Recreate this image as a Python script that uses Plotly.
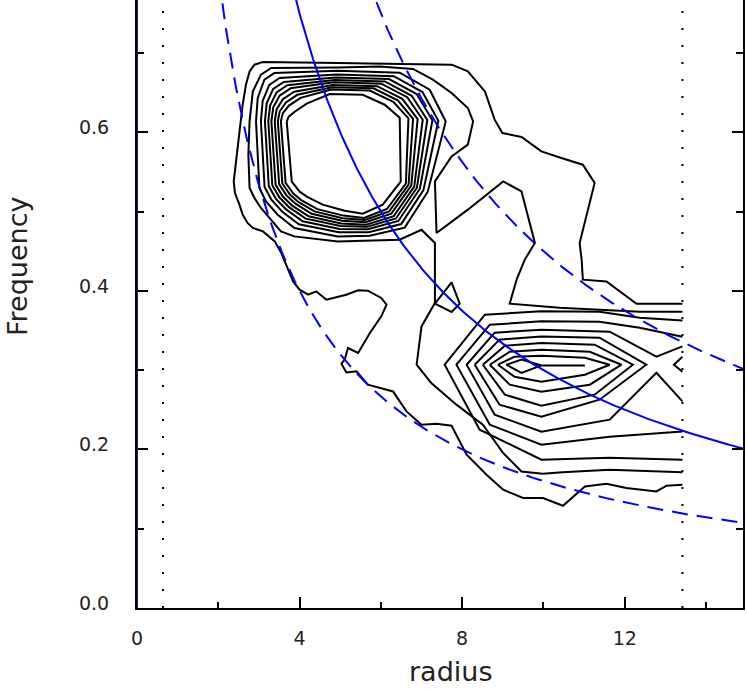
import numpy as np
import plotly.graph_objects as go

# ---- reference curves y = c / x ----
c_mid = 3.0
c_high = 4.5
c_low = 1.6
dotted_x = [0.64, 13.42]

# ---- contour lines (data coordinates) ----
# level 1: outer envelope (open at the right data edge)
lev1_x = [13.42, 13.03, 12.78, 12.04, 11.55, 11.02, 10.48, 9.99, 9.50, 9.01, 8.60, 8.11, 7.74, 7.37, 7.00,
          6.63, 6.30, 5.68, 5.40, 5.15, 5.03, 5.11, 5.19, 5.44, 5.73, 6.01, 6.14, 6.01, 5.68, 5.44, 5.15,
          4.66, 4.41, 4.21, 4.00, 3.84, 3.55, 3.39, 3.10, 2.97, 2.85, 2.72, 2.60, 2.52, 2.41, 2.38, 2.44,
          2.52, 2.60, 2.68, 2.77, 2.89, 3.09, 4.94, 6.96, 7.74, 8.14, 8.56, 8.80, 8.99, 9.46, 9.95, 10.44,
          10.97, 11.26, 10.89, 10.94, 10.97, 11.55, 12.29, 13.42]
lev1_y = [0.1556, 0.1543, 0.1471, 0.1514, 0.1568, 0.1534, 0.129, 0.1388, 0.1388, 0.1492, 0.1682, 0.1934,
          0.230, 0.2325, 0.2312, 0.248, 0.2732, 0.2817, 0.2985, 0.2972, 0.3082, 0.3132, 0.328, 0.3217, 0.3469,
          0.3679, 0.3826, 0.3911, 0.4003, 0.4007, 0.3952, 0.3889, 0.3994, 0.3952, 0.4015, 0.412, 0.4478,
          0.4625, 0.4751, 0.4772, 0.4794, 0.4857, 0.4962, 0.5088, 0.5235, 0.5382, 0.5634, 0.6012, 0.6349,
          0.6601, 0.6769, 0.6854, 0.6888, 0.6875, 0.6863, 0.6854, 0.6769, 0.6517, 0.616, 0.5992, 0.5942,
          0.576, 0.5677, 0.5592, 0.5361, 0.4605, 0.4394, 0.4142, 0.412, 0.3839, 0.3839]

# level 2: long open contour
lev2_x = [13.42, 11.63, 10.47, 9.98, 9.46, 9.01, 8.51, 7.86, 7.24, 6.88, 7.00, 7.33, 7.33, 7.00, 6.46, 4.94,
          3.87, 3.54, 3.05, 2.89, 2.77, 2.74, 2.77, 2.85, 3.05, 3.30, 4.94, 5.97, 6.79, 7.28, 7.74, 8.14,
          8.27, 8.14, 7.74, 7.33, 7.37, 8.14, 9.01, 9.46, 9.79, 9.54, 9.34, 9.17, 10.40, 11.58, 12.37, 13.42]
lev2_y = [0.1711, 0.1745, 0.1711, 0.1694, 0.1723, 0.1955, 0.2312, 0.2565, 0.2838, 0.3069, 0.3552, 0.3848,
          0.4605, 0.4772, 0.4646, 0.4625, 0.4688, 0.4751, 0.5046, 0.5172, 0.5298, 0.5718, 0.6138, 0.6517,
          0.6728, 0.6812, 0.682, 0.6832, 0.680, 0.6665, 0.6497, 0.6308, 0.6138, 0.5845, 0.5697, 0.5382,
          0.4731, 0.5025, 0.5382, 0.5255, 0.4605, 0.4394, 0.4142, 0.3839, 0.3788, 0.3763, 0.3738, 0.3738]
lev2b_x = [7.33, 7.74, 7.94, 7.74, 7.33]
lev2b_y = [0.3839, 0.4107, 0.3839, 0.3734, 0.3839]

# first blob (levels 3 .. 11), closed rings
b1_l3_x = [2.928, 3.012, 3.174, 3.462, 3.873, 4.938, 5.726, 6.587, 7.153, 7.596, 7.202, 6.464, 4.938, 3.381, 3.135, 2.970, 2.928]
b1_l3_y = [0.6138, 0.5298, 0.5129, 0.4962, 0.4794, 0.4688, 0.4697, 0.4798, 0.5252, 0.6138, 0.6538, 0.6753, 0.6778, 0.6749, 0.6665, 0.6434, 0.6138]
b1_l4_x = [3.049, 3.139, 3.307, 3.576, 3.984, 4.966, 5.698, 6.500, 7.047, 7.415, 7.025, 6.318, 4.907, 3.508, 3.254, 3.092, 3.049]
b1_l4_y = [0.614, 0.531, 0.515, 0.4998, 0.4841, 0.474, 0.4741, 0.4844, 0.5272, 0.6146, 0.6508, 0.6709, 0.6731, 0.6687, 0.66, 0.6396, 0.614]
b1_l5_x = [3.147, 3.243, 3.414, 3.669, 4.075, 4.988, 5.676, 6.430, 6.960, 7.268, 6.881, 6.200, 4.881, 3.612, 3.351, 3.191, 3.147]
b1_l5_y = [0.614, 0.5321, 0.5165, 0.5028, 0.4879, 0.4782, 0.4777, 0.4882, 0.5289, 0.6152, 0.6483, 0.6672, 0.6693, 0.6637, 0.6548, 0.6366, 0.614]
b1_l6_x = [3.230, 3.330, 3.506, 3.748, 4.151, 5.007, 5.657, 6.371, 6.887, 7.143, 6.759, 6.100, 4.860, 3.699, 3.433, 3.275, 3.230]
b1_l6_y = [0.614, 0.533, 0.5178, 0.5053, 0.4912, 0.4818, 0.4808, 0.4914, 0.5302, 0.6157, 0.6462, 0.6642, 0.666, 0.6594, 0.6503, 0.634, 0.614]
b1_l7_x = [3.306, 3.410, 3.589, 3.819, 4.221, 5.025, 5.640, 6.317, 6.821, 7.030, 6.649, 6.009, 4.840, 3.779, 3.508, 3.352, 3.306]
b1_l7_y = [0.614, 0.5338, 0.519, 0.5076, 0.4941, 0.485, 0.4836, 0.4943, 0.5315, 0.616, 0.6444, 0.6614, 0.6631, 0.6556, 0.6463, 0.6316, 0.614]
b1_l8_x = [3.389, 3.497, 3.680, 3.898, 4.298, 5.044, 5.621, 6.257, 6.748, 6.905, 6.527, 5.909, 4.818, 3.866, 3.589, 3.435, 3.389]
b1_l8_y = [0.614, 0.5347, 0.5204, 0.51, 0.4973, 0.4886, 0.4866, 0.4975, 0.5329, 0.6167, 0.6423, 0.6583, 0.6599, 0.6513, 0.6419, 0.629, 0.614]
b1_l9_x = [3.465, 3.576, 3.763, 3.969, 4.367, 5.061, 5.604, 6.203, 6.682, 6.792, 6.416, 5.818, 4.799, 3.945, 3.664, 3.512, 3.465]
b1_l9_y = [0.614, 0.5355, 0.5216, 0.5123, 0.5003, 0.4918, 0.4894, 0.5004, 0.5341, 0.6171, 0.6404, 0.6556, 0.6569, 0.6474, 0.6378, 0.6266, 0.614]
b1_l10_x = [3.540, 3.656, 3.845, 4.040, 4.437, 5.078, 5.587, 6.149, 6.615, 6.679, 6.305, 5.727, 4.779, 4.025, 3.738, 3.588, 3.540]
b1_l10_y = [0.614, 0.5363, 0.5229, 0.5146, 0.5032, 0.495, 0.4921, 0.5033, 0.5354, 0.6176, 0.6385, 0.6528, 0.654, 0.6436, 0.6338, 0.6243, 0.614]
b1_l11_x = [3.684, 3.807, 4.003, 4.176, 4.569, 5.111, 5.554, 6.046, 6.489, 6.464, 6.095, 5.554, 4.742, 4.176, 3.880, 3.733, 3.684]
b1_l11_y = [0.6135, 0.5378, 0.5252, 0.5189, 0.5088, 0.5012, 0.4974, 0.5088, 0.5378, 0.6185, 0.6349, 0.6475, 0.6484, 0.6362, 0.6261, 0.6198, 0.6135]

# second blob (levels 3 .. 10)
b2_l3_x = [13.42, 12.37, 11.38, 9.95, 8.56, 7.57, 8.43, 9.95, 11.63, 13.42]
b2_l3_y = [0.3628, 0.3662, 0.3738, 0.3742, 0.370, 0.3069, 0.2249, 0.1871, 0.1896, 0.1871]
b2_l4_x = [13.42, 12.37, 11.38, 9.95, 8.68, 7.86, 8.68, 9.95, 11.63, 13.42]
b2_l4_y = [0.3423, 0.3536, 0.3612, 0.3616, 0.3574, 0.3069, 0.2313, 0.206, 0.2161, 0.2228]
b2_l5_x = [13.42, 12.78, 11.63, 9.95, 8.80, 8.11, 8.80, 9.95, 11.63, 12.78, 13.42]
b2_l5_y = [0.330, 0.317, 0.3486, 0.3511, 0.3473, 0.3069, 0.2439, 0.2224, 0.2376, 0.2968, 0.2606]
b2_l6_x = [8.31, 8.92, 9.95, 11.38, 12.53, 11.38, 9.95, 8.92, 8.31]
b2_l6_y = [0.3069, 0.3385, 0.3426, 0.341, 0.3069, 0.2628, 0.2413, 0.2565, 0.3069]
b2_l6e_x = [13.42, 13.21, 13.42]
b2_l6e_y = [0.317, 0.3069, 0.2981]
b2_l7_x = [8.51, 9.05, 9.95, 11.26, 12.20, 11.26, 9.95, 9.05, 8.51]
b2_l7_y = [0.3069, 0.3309, 0.3343, 0.3322, 0.3069, 0.2691, 0.2552, 0.2691, 0.3069]
b2_l8_x = [8.68, 9.17, 9.95, 11.14, 11.92, 11.14, 9.95, 9.17, 8.68]
b2_l8_y = [0.3069, 0.3233, 0.3259, 0.3233, 0.3069, 0.2817, 0.2729, 0.2817, 0.3069]
b2_l9_x = [8.88, 9.29, 9.95, 11.02, 11.63, 11.02, 9.95, 9.29, 8.88]
b2_l9_y = [0.3069, 0.317, 0.3183, 0.3158, 0.3069, 0.2943, 0.2855, 0.2918, 0.3069]
b2_l10_x = [11.02, 9.95, 9.46, 9.09, 9.46, 9.95]
b2_l10_y = [0.306, 0.306, 0.3133, 0.3069, 0.2965, 0.306]

contours = [
    (lev1_x, lev1_y), (lev2_x, lev2_y), (lev2b_x, lev2b_y),
    (b1_l3_x, b1_l3_y), (b1_l4_x, b1_l4_y), (b1_l5_x, b1_l5_y), (b1_l6_x, b1_l6_y),
    (b1_l7_x, b1_l7_y), (b1_l8_x, b1_l8_y), (b1_l9_x, b1_l9_y), (b1_l10_x, b1_l10_y), (b1_l11_x, b1_l11_y),
    (b2_l3_x, b2_l3_y), (b2_l4_x, b2_l4_y), (b2_l5_x, b2_l5_y), (b2_l6_x, b2_l6_y), (b2_l6e_x, b2_l6e_y),
    (b2_l7_x, b2_l7_y), (b2_l8_x, b2_l8_y), (b2_l9_x, b2_l9_y), (b2_l10_x, b2_l10_y),
]

X_MAX = 14.91
Y_MAX = 0.767

fig = go.Figure()

for cx, cy in contours:
    fig.add_trace(go.Scatter(x=cx, y=cy, mode="lines",
                             line=dict(color="black", width=2), hoverinfo="skip", showlegend=False))

xs = np.linspace(0.3, X_MAX, 400)
for c, dash in [(c_mid, "solid"), (c_high, "16px,9px"), (c_low, "16px,9px")]:
    fig.add_trace(go.Scatter(x=xs, y=c / xs, mode="lines",
                             line=dict(color="#0000ff", width=2, dash=dash),
                             hoverinfo="skip", showlegend=False))

for dx in dotted_x:
    fig.add_trace(go.Scatter(x=[dx, dx], y=[0, Y_MAX], mode="lines",
                             line=dict(color="black", width=2, dash="2px,15px"),
                             hoverinfo="skip", showlegend=False))

fig.add_shape(type="line", x0=0, x1=0, y0=0, y1=1, xref="x", yref="paper",
              line=dict(color="#1c1c6e", width=2))

tick_font = dict(family="DejaVu Sans", size=19, color="#222")
title_font = dict(family="DejaVu Sans", size=27, color="#222")

fig.add_annotation(text="radius", x=0.517, y=-0.1315, xref="paper", yref="paper",
                   xanchor="center", yanchor="bottom", borderpad=0, showarrow=False, font=title_font)
fig.add_annotation(text="Frequency", x=-0.198, y=0.5625, xref="paper", yref="paper",
                   xanchor="center", yanchor="middle", textangle=-90, showarrow=False, font=title_font)

fig.update_layout(
    width=747, height=690,
    margin=dict(l=137, r=4, t=0, b=82),
    plot_bgcolor="white", paper_bgcolor="white",
    xaxis=dict(range=[0, X_MAX], showgrid=False, zeroline=False, automargin=False,
               showline=True, linecolor="black", linewidth=2, mirror=False,
               ticks="inside", ticklen=11, tickwidth=2, tickcolor="black",
               tickvals=[0, 4, 8, 12], ticktext=["0", "4", "8", "12"], tickfont=tick_font,
               minor=dict(tickvals=[2, 6, 10, 14], ticks="inside", ticklen=6, tickwidth=2, tickcolor="black"),
               ticklabelstandoff=12),
    yaxis=dict(range=[0, Y_MAX], showgrid=False, zeroline=False, automargin=False,
               showline=True, linecolor="black", linewidth=2, mirror="ticks",
               ticks="inside", ticklen=11, tickwidth=2, tickcolor="black",
               tickvals=[0, 0.2, 0.4, 0.6], ticktext=["0.0", "0.2", "0.4", "0.6"], tickfont=tick_font,
               minor=dict(tickvals=[0.1, 0.3, 0.5, 0.7], ticks="inside", ticklen=7, tickwidth=2, tickcolor="black"),
               ticklabelstandoff=22, ticklabelshift=-5),
)

fig.write_html("out.html", config={"displayModeBar": False},
               post_script="document.body.style.margin='0px';document.body.style.overflow='hidden';")
